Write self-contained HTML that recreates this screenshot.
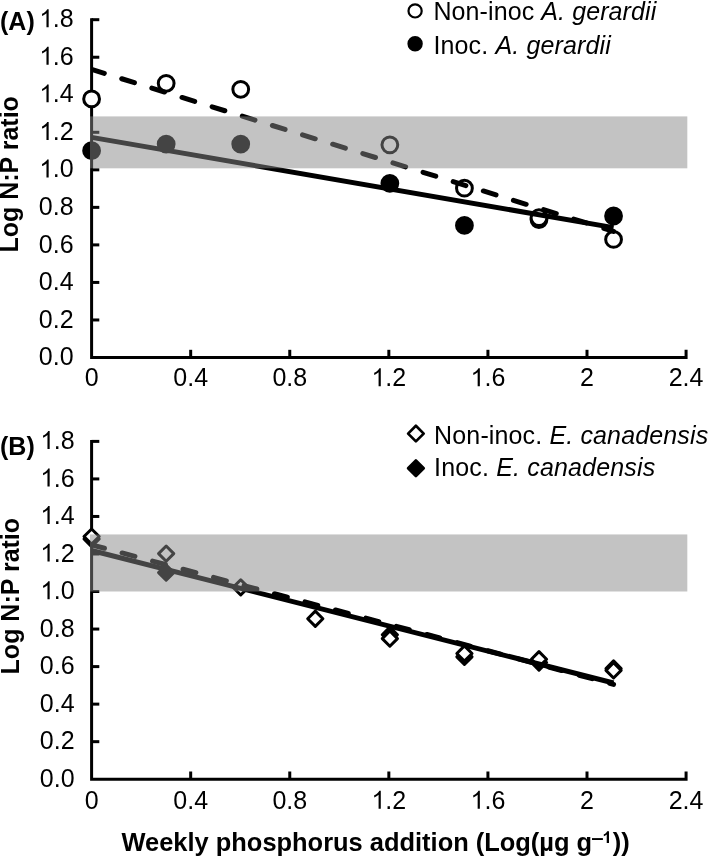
<!DOCTYPE html><html><head><meta charset="utf-8"><style>html,body{margin:0;padding:0;background:#fff;width:709px;height:856px;overflow:hidden}svg{display:block;will-change:transform}text{font-family:"Liberation Sans",sans-serif;font-size:25px;fill:#000}</style></head><body>
<svg width="709" height="856" viewBox="0 0 709 856">
<defs><clipPath id="cp"><rect x="91.6" y="0" width="600" height="856"/></clipPath></defs>
<path d="M91.6 18.19 V357.5 H686.08 V349.8" fill="none" stroke="#000" stroke-width="3" stroke-linejoin="miter"/>
<line x1="91.6" y1="319.97" x2="99.3" y2="319.97" stroke="#000" stroke-width="3"/>
<line x1="91.6" y1="282.43" x2="99.3" y2="282.43" stroke="#000" stroke-width="3"/>
<line x1="91.6" y1="244.9" x2="99.3" y2="244.9" stroke="#000" stroke-width="3"/>
<line x1="91.6" y1="207.36" x2="99.3" y2="207.36" stroke="#000" stroke-width="3"/>
<line x1="91.6" y1="169.83" x2="99.3" y2="169.83" stroke="#000" stroke-width="3"/>
<line x1="91.6" y1="132.3" x2="99.3" y2="132.3" stroke="#000" stroke-width="3"/>
<line x1="91.6" y1="94.76" x2="99.3" y2="94.76" stroke="#000" stroke-width="3"/>
<line x1="91.6" y1="57.23" x2="99.3" y2="57.23" stroke="#000" stroke-width="3"/>
<line x1="91.6" y1="19.69" x2="99.3" y2="19.69" stroke="#000" stroke-width="3"/>
<line x1="190.68" y1="357.5" x2="190.68" y2="349.8" stroke="#000" stroke-width="3"/>
<line x1="289.76" y1="357.5" x2="289.76" y2="349.8" stroke="#000" stroke-width="3"/>
<line x1="388.84" y1="357.5" x2="388.84" y2="349.8" stroke="#000" stroke-width="3"/>
<line x1="487.92" y1="357.5" x2="487.92" y2="349.8" stroke="#000" stroke-width="3"/>
<line x1="587" y1="357.5" x2="587" y2="349.8" stroke="#000" stroke-width="3"/>
<circle cx="91.6" cy="150.69" r="7.9" fill="#000" stroke="#000" stroke-width="3.0"/>
<circle cx="166.17" cy="144.12" r="7.9" fill="#000" stroke="#000" stroke-width="3.0"/>
<circle cx="240.73" cy="144.12" r="7.9" fill="#000" stroke="#000" stroke-width="3.0"/>
<circle cx="389.86" cy="183.34" r="7.9" fill="#000" stroke="#000" stroke-width="3.0"/>
<circle cx="464.43" cy="225.38" r="7.9" fill="#000" stroke="#000" stroke-width="3.0"/>
<circle cx="538.99" cy="219.56" r="7.9" fill="#000" stroke="#000" stroke-width="3.0"/>
<circle cx="613.56" cy="216" r="7.9" fill="#000" stroke="#000" stroke-width="3.0"/>
<circle cx="91.6" cy="98.89" r="7.9" fill="#fff" stroke="#000" stroke-width="3.0"/>
<circle cx="166.17" cy="83.31" r="7.9" fill="#fff" stroke="#000" stroke-width="3.0"/>
<circle cx="240.73" cy="89.32" r="7.9" fill="#fff" stroke="#000" stroke-width="3.0"/>
<circle cx="389.86" cy="144.87" r="7.9" fill="#fff" stroke="#000" stroke-width="3.0"/>
<circle cx="464.43" cy="188.22" r="7.9" fill="#fff" stroke="#000" stroke-width="3.0"/>
<circle cx="538.99" cy="217.69" r="7.9" fill="#fff" stroke="#000" stroke-width="3.0"/>
<circle cx="613.56" cy="239.46" r="7.9" fill="#fff" stroke="#000" stroke-width="3.0"/>
<line x1="91.6" y1="137.4" x2="613.56" y2="227.6" stroke="#000" stroke-width="5.0"/>
<line x1="91.6" y1="69.4" x2="613.56" y2="231.4" stroke="#000" stroke-width="5.0" stroke-dasharray="13.3 18.25" stroke-linecap="round" clip-path="url(#cp)"/>
<rect x="90" y="116.4" width="597.3" height="51.9" fill="rgba(136,136,136,0.5)"/>
<path d="M91.6 439.89 V779.2 H686.08 V771.5" fill="none" stroke="#000" stroke-width="3" stroke-linejoin="miter"/>
<line x1="91.6" y1="741.67" x2="99.3" y2="741.67" stroke="#000" stroke-width="3"/>
<line x1="91.6" y1="704.13" x2="99.3" y2="704.13" stroke="#000" stroke-width="3"/>
<line x1="91.6" y1="666.6" x2="99.3" y2="666.6" stroke="#000" stroke-width="3"/>
<line x1="91.6" y1="629.06" x2="99.3" y2="629.06" stroke="#000" stroke-width="3"/>
<line x1="91.6" y1="591.53" x2="99.3" y2="591.53" stroke="#000" stroke-width="3"/>
<line x1="91.6" y1="554" x2="99.3" y2="554" stroke="#000" stroke-width="3"/>
<line x1="91.6" y1="516.46" x2="99.3" y2="516.46" stroke="#000" stroke-width="3"/>
<line x1="91.6" y1="478.93" x2="99.3" y2="478.93" stroke="#000" stroke-width="3"/>
<line x1="91.6" y1="441.39" x2="99.3" y2="441.39" stroke="#000" stroke-width="3"/>
<line x1="190.68" y1="779.2" x2="190.68" y2="771.5" stroke="#000" stroke-width="3"/>
<line x1="289.76" y1="779.2" x2="289.76" y2="771.5" stroke="#000" stroke-width="3"/>
<line x1="388.84" y1="779.2" x2="388.84" y2="771.5" stroke="#000" stroke-width="3"/>
<line x1="487.92" y1="779.2" x2="487.92" y2="771.5" stroke="#000" stroke-width="3"/>
<line x1="587" y1="779.2" x2="587" y2="771.5" stroke="#000" stroke-width="3"/>
<path d="M91.6 531.38 L99.2 538.98 L91.6 546.58 L84 538.98Z" fill="#000" stroke="#000" stroke-width="3.0" stroke-linejoin="round"/>
<path d="M166.17 564.98 L173.77 572.58 L166.17 580.18 L158.57 572.58Z" fill="#000" stroke="#000" stroke-width="3.0" stroke-linejoin="round"/>
<path d="M389.86 627.09 L397.46 634.69 L389.86 642.29 L382.26 634.69Z" fill="#000" stroke="#000" stroke-width="3.0" stroke-linejoin="round"/>
<path d="M464.43 649.24 L472.03 656.84 L464.43 664.44 L456.83 656.84Z" fill="#000" stroke="#000" stroke-width="3.0" stroke-linejoin="round"/>
<path d="M538.99 654.87 L546.59 662.47 L538.99 670.07 L531.39 662.47Z" fill="#000" stroke="#000" stroke-width="3.0" stroke-linejoin="round"/>
<path d="M613.56 660.87 L621.16 668.47 L613.56 676.07 L605.96 668.47Z" fill="#000" stroke="#000" stroke-width="3.0" stroke-linejoin="round"/>
<path d="M91.6 528.94 L99.2 536.54 L91.6 544.14 L84 536.54Z" fill="#fff" stroke="#000" stroke-width="3.0" stroke-linejoin="round"/>
<path d="M166.17 546.02 L173.77 553.62 L166.17 561.22 L158.57 553.62Z" fill="#fff" stroke="#000" stroke-width="3.0" stroke-linejoin="round"/>
<path d="M240.73 579.8 L248.33 587.4 L240.73 595 L233.13 587.4Z" fill="#fff" stroke="#000" stroke-width="3.0" stroke-linejoin="round"/>
<path d="M315.3 611.14 L322.9 618.74 L315.3 626.34 L307.7 618.74Z" fill="#fff" stroke="#000" stroke-width="3.0" stroke-linejoin="round"/>
<path d="M389.86 631.04 L397.46 638.64 L389.86 646.24 L382.26 638.64Z" fill="#fff" stroke="#000" stroke-width="3.0" stroke-linejoin="round"/>
<path d="M464.43 645.86 L472.03 653.46 L464.43 661.06 L456.83 653.46Z" fill="#fff" stroke="#000" stroke-width="3.0" stroke-linejoin="round"/>
<path d="M538.99 651.68 L546.59 659.28 L538.99 666.88 L531.39 659.28Z" fill="#fff" stroke="#000" stroke-width="3.0" stroke-linejoin="round"/>
<path d="M613.56 662.75 L621.16 670.35 L613.56 677.95 L605.96 670.35Z" fill="#fff" stroke="#000" stroke-width="3.0" stroke-linejoin="round"/>
<line x1="91.6" y1="550.5" x2="613.56" y2="683.0" stroke="#000" stroke-width="5.0"/>
<line x1="91.6" y1="544.8" x2="613.56" y2="684.4" stroke="#000" stroke-width="5.0" stroke-dasharray="13.3 18.25" stroke-linecap="round" clip-path="url(#cp)"/>
<rect x="90" y="534.45" width="597.3" height="57.05" fill="rgba(136,136,136,0.5)"/>
<text x="73.6" y="365.1" text-anchor="end">0.0</text>
<text x="73.6" y="327.57" text-anchor="end">0.2</text>
<text x="73.6" y="290.03" text-anchor="end">0.4</text>
<text x="73.6" y="252.5" text-anchor="end">0.6</text>
<text x="73.6" y="214.96" text-anchor="end">0.8</text>
<path transform="translate(39.35 177.43) scale(0.012207 -0.012207)" d="M763 0H583V1147Q518 1085 412.5 1023Q307 961 223 930V1104Q374 1175 487 1276Q600 1377 647 1472H763Z" fill="#000"/>
<text x="73.6" y="177.43" text-anchor="end">.0</text>
<path transform="translate(39.35 139.9) scale(0.012207 -0.012207)" d="M763 0H583V1147Q518 1085 412.5 1023Q307 961 223 930V1104Q374 1175 487 1276Q600 1377 647 1472H763Z" fill="#000"/>
<text x="73.6" y="139.9" text-anchor="end">.2</text>
<path transform="translate(39.35 102.36) scale(0.012207 -0.012207)" d="M763 0H583V1147Q518 1085 412.5 1023Q307 961 223 930V1104Q374 1175 487 1276Q600 1377 647 1472H763Z" fill="#000"/>
<text x="73.6" y="102.36" text-anchor="end">.4</text>
<path transform="translate(39.35 64.83) scale(0.012207 -0.012207)" d="M763 0H583V1147Q518 1085 412.5 1023Q307 961 223 930V1104Q374 1175 487 1276Q600 1377 647 1472H763Z" fill="#000"/>
<text x="73.6" y="64.83" text-anchor="end">.6</text>
<path transform="translate(39.35 27.29) scale(0.012207 -0.012207)" d="M763 0H583V1147Q518 1085 412.5 1023Q307 961 223 930V1104Q374 1175 487 1276Q600 1377 647 1472H763Z" fill="#000"/>
<text x="73.6" y="27.29" text-anchor="end">.8</text>
<text x="74.6" y="786.8" text-anchor="end">0.0</text>
<text x="74.6" y="749.27" text-anchor="end">0.2</text>
<text x="74.6" y="711.73" text-anchor="end">0.4</text>
<text x="74.6" y="674.2" text-anchor="end">0.6</text>
<text x="74.6" y="636.66" text-anchor="end">0.8</text>
<path transform="translate(40.35 599.13) scale(0.012207 -0.012207)" d="M763 0H583V1147Q518 1085 412.5 1023Q307 961 223 930V1104Q374 1175 487 1276Q600 1377 647 1472H763Z" fill="#000"/>
<text x="74.6" y="599.13" text-anchor="end">.0</text>
<path transform="translate(40.35 561.6) scale(0.012207 -0.012207)" d="M763 0H583V1147Q518 1085 412.5 1023Q307 961 223 930V1104Q374 1175 487 1276Q600 1377 647 1472H763Z" fill="#000"/>
<text x="74.6" y="561.6" text-anchor="end">.2</text>
<path transform="translate(40.35 524.06) scale(0.012207 -0.012207)" d="M763 0H583V1147Q518 1085 412.5 1023Q307 961 223 930V1104Q374 1175 487 1276Q600 1377 647 1472H763Z" fill="#000"/>
<text x="74.6" y="524.06" text-anchor="end">.4</text>
<path transform="translate(40.35 486.53) scale(0.012207 -0.012207)" d="M763 0H583V1147Q518 1085 412.5 1023Q307 961 223 930V1104Q374 1175 487 1276Q600 1377 647 1472H763Z" fill="#000"/>
<text x="74.6" y="486.53" text-anchor="end">.6</text>
<path transform="translate(40.35 448.99) scale(0.012207 -0.012207)" d="M763 0H583V1147Q518 1085 412.5 1023Q307 961 223 930V1104Q374 1175 487 1276Q600 1377 647 1472H763Z" fill="#000"/>
<text x="74.6" y="448.99" text-anchor="end">.8</text>
<text x="91.6" y="386.3" text-anchor="middle">0</text>
<text x="190.68" y="386.3" text-anchor="middle">0.4</text>
<text x="289.76" y="386.3" text-anchor="middle">0.8</text>
<path transform="translate(371.47 386.3) scale(0.012207 -0.012207)" d="M763 0H583V1147Q518 1085 412.5 1023Q307 961 223 930V1104Q374 1175 487 1276Q600 1377 647 1472H763Z" fill="#000"/>
<text x="385.37" y="386.3">.2</text>
<path transform="translate(470.54 386.3) scale(0.012207 -0.012207)" d="M763 0H583V1147Q518 1085 412.5 1023Q307 961 223 930V1104Q374 1175 487 1276Q600 1377 647 1472H763Z" fill="#000"/>
<text x="484.44" y="386.3">.6</text>
<text x="587" y="386.3" text-anchor="middle">2</text>
<text x="686.08" y="386.3" text-anchor="middle">2.4</text>
<text x="91.6" y="808.8" text-anchor="middle">0</text>
<text x="190.68" y="808.8" text-anchor="middle">0.4</text>
<text x="289.76" y="808.8" text-anchor="middle">0.8</text>
<path transform="translate(371.47 808.8) scale(0.012207 -0.012207)" d="M763 0H583V1147Q518 1085 412.5 1023Q307 961 223 930V1104Q374 1175 487 1276Q600 1377 647 1472H763Z" fill="#000"/>
<text x="385.37" y="808.8">.2</text>
<path transform="translate(470.54 808.8) scale(0.012207 -0.012207)" d="M763 0H583V1147Q518 1085 412.5 1023Q307 961 223 930V1104Q374 1175 487 1276Q600 1377 647 1472H763Z" fill="#000"/>
<text x="484.44" y="808.8">.6</text>
<text x="587" y="808.8" text-anchor="middle">2</text>
<text x="686.08" y="808.8" text-anchor="middle">2.4</text>
<text x="0" y="29.5" font-weight="bold">(A)</text>
<text x="0" y="454.6" font-weight="bold">(B)</text>
<text transform="translate(17.7 252.6) rotate(-90)" font-weight="bold">Log N:P ratio</text>
<text transform="translate(18.9 674.4) rotate(-90)" font-weight="bold">Log N:P ratio</text>
<circle cx="415.1" cy="10.9" r="6.6" fill="#fff" stroke="#000" stroke-width="2.2"/>
<circle cx="415.1" cy="43.8" r="6.6" fill="#000" stroke="#000" stroke-width="2.2"/>
<text x="433.4" y="20.4" style="letter-spacing:0.1px">Non-inoc <tspan font-style="italic">A. gerardii</tspan></text>
<text x="433.4" y="54.2" style="letter-spacing:0.14px">Inoc. <tspan font-style="italic">A. gerardii</tspan></text>
<path d="M415.9 425.8 L423.7 433.6 L415.9 441.4 L408.1 433.6Z" fill="#fff" stroke="#000" stroke-width="2.7" stroke-linejoin="round"/>
<path d="M415.9 460.4 L423.7 468.2 L415.9 476 L408.1 468.2Z" fill="#000" stroke="#000" stroke-width="2.7" stroke-linejoin="round"/>
<text x="434.1" y="443.5" style="letter-spacing:0.14px">Non-inoc. <tspan font-style="italic">E. canadensis</tspan></text>
<text x="434.1" y="476.1" style="letter-spacing:0.16px">Inoc. <tspan font-style="italic">E. canadensis</tspan></text>
<text x="121.5" y="850.7" font-weight="bold" style="font-size:25.45px">Weekly phosphorus addition (Log(µg g</text>
<rect x="592" y="838.1" width="10.9" height="1.9" fill="#000"/>
<path transform="translate(602.5 843.1) scale(0.008057 -0.008057)" d="M806 0H525V1059Q371 915 162 846V1101Q272 1137 401 1238Q530 1339 578 1472H806Z" fill="#000"/>
<text x="612.8" y="850.7" font-weight="bold" style="font-size:25.5px">))</text>
</svg></body></html>
